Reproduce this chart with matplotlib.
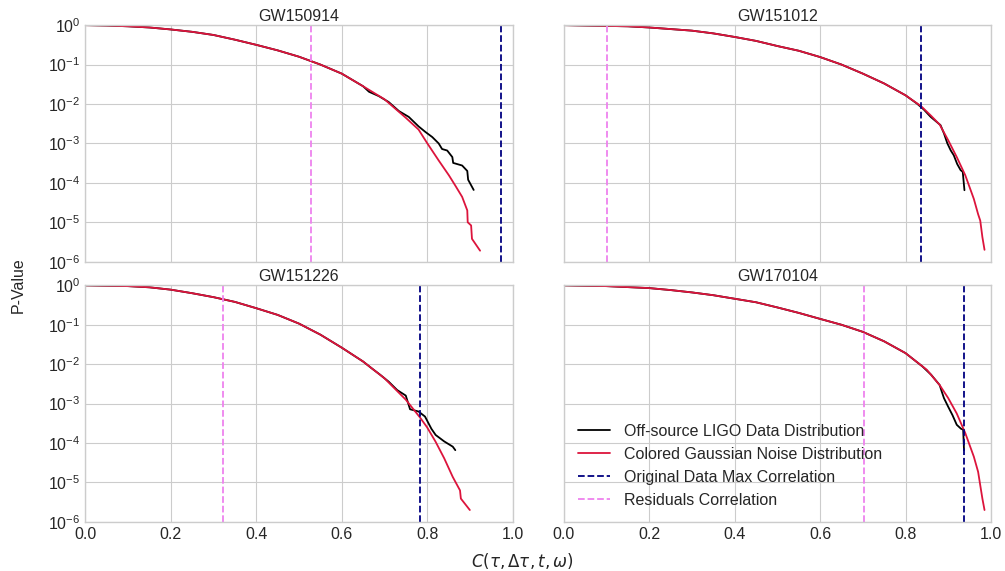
import numpy as np
from matplotlib import pyplot as plt

plt.style.use('seaborn-v0_8-whitegrid')
plt.rcParams['font.family'] = ['Liberation Sans', 'DejaVu Sans']
plt.rcParams['mathtext.fontset'] = 'dejavusans'

events = ['GW150914', 'GW151012', 'GW151226', 'GW170104']

# colored gaussian noise distribution (red)
noise_x = {
    'GW150914': [0, 0.05, 0.1, 0.15, 0.2, 0.25, 0.3, 0.35, 0.4, 0.45, 0.5, 0.55, 0.6, 0.65, 0.7, 0.75, 0.78, 0.8,
                 0.827, 0.851, 0.866, 0.882, 0.89, 0.894, 0.895, 0.903, 0.905, 0.924],
    'GW151012': [0, 0.1, 0.15, 0.2, 0.25, 0.3, 0.35, 0.4, 0.45, 0.5, 0.55, 0.6, 0.65, 0.7, 0.75, 0.8, 0.837,
                 0.86, 0.88, 0.9, 0.92, 0.94, 0.96, 0.97, 0.975, 0.98, 0.985],
    'GW151226': [0, 0.1, 0.15, 0.2, 0.25, 0.3, 0.35, 0.4, 0.45, 0.5, 0.55, 0.6, 0.65, 0.7, 0.75, 0.783, 0.8,
                 0.82, 0.84, 0.86, 0.877, 0.879, 0.9],
    'GW170104': [0, 0.1, 0.2, 0.25, 0.3, 0.35, 0.4, 0.45, 0.5, 0.55, 0.6, 0.65, 0.7, 0.75, 0.8, 0.85, 0.88,
                 0.9, 0.92, 0.94, 0.96, 0.97, 0.975, 0.98, 0.985],
}
noise_p = {
    'GW150914': [1, 0.977, 0.933, 0.871, 0.776, 0.676, 0.562, 0.427, 0.316, 0.229, 0.158, 0.100, 0.0589, 0.0282,
                 0.0132, 4.47e-3, 2.24e-3, 1.02e-3, 3.7e-4, 1.55e-4, 8.5e-5, 4.4e-5, 2.6e-5, 2.0e-5, 1.0e-5,
                 8.3e-6, 3.8e-6, 1.9e-6],
    'GW151012': [1, 0.955, 0.933, 0.871, 0.794, 0.724, 0.617, 0.501, 0.398, 0.295, 0.224, 0.155, 0.100, 0.0589,
                 0.0331, 0.0166, 8.7e-3, 5.0e-3, 3.0e-3, 1.2e-3, 4.5e-4, 1.55e-4, 3.9e-5, 1.6e-5, 1.1e-5,
                 4.2e-6, 2.0e-6],
    'GW151226': [1, 0.955, 0.891, 0.776, 0.631, 0.501, 0.380, 0.263, 0.178, 0.107, 0.0562, 0.0263, 0.0117,
                 4.4e-3, 1.26e-3, 4.5e-4, 2.5e-4, 1.07e-4, 4.1e-5, 1.38e-5, 6.3e-6, 3.9e-6, 2.0e-6],
    'GW170104': [1, 0.955, 0.851, 0.759, 0.661, 0.562, 0.457, 0.372, 0.275, 0.200, 0.141, 0.100, 0.0661, 0.038,
                 0.0191, 7.2e-3, 2.95e-3, 1.38e-3, 5.6e-4, 1.78e-4, 4.5e-5, 1.86e-5, 8.5e-6, 3.9e-6, 2.0e-6],
}

# off-source LIGO data distribution (black)
data_x = {
    'GW150914': [0, 0.05, 0.1, 0.15, 0.2, 0.25, 0.3, 0.35, 0.4, 0.45, 0.5, 0.55, 0.6, 0.65, 0.664, 0.687, 0.71,
                 0.734, 0.757, 0.78, 0.796, 0.812, 0.827, 0.835, 0.847, 0.859, 0.861, 0.882, 0.894, 0.896, 0.909],
    'GW151012': [0, 0.1, 0.15, 0.2, 0.25, 0.3, 0.35, 0.4, 0.45, 0.5, 0.55, 0.6, 0.65, 0.7, 0.75, 0.8, 0.827,
                 0.843, 0.859, 0.882, 0.89, 0.898, 0.906, 0.913, 0.921, 0.929, 0.934, 0.938],
    'GW151226': [0, 0.1, 0.15, 0.2, 0.25, 0.3, 0.35, 0.4, 0.45, 0.5, 0.55, 0.6, 0.65, 0.67, 0.69, 0.71, 0.73,
                 0.75, 0.76, 0.78, 0.795, 0.81, 0.82, 0.84, 0.86, 0.866],
    'GW170104': [0, 0.1, 0.2, 0.25, 0.3, 0.35, 0.4, 0.45, 0.5, 0.55, 0.6, 0.65, 0.7, 0.75, 0.8, 0.82, 0.84,
                 0.86, 0.88, 0.885, 0.89, 0.9, 0.91, 0.92, 0.93, 0.935, 0.937],
}
data_p = {
    'GW150914': [1, 0.977, 0.933, 0.871, 0.776, 0.676, 0.562, 0.427, 0.316, 0.229, 0.158, 0.100, 0.0589, 0.0282,
                 0.0204, 0.0158, 0.0112, 6.6e-3, 4.7e-3, 2.7e-3, 1.95e-3, 1.45e-3, 1.0e-3, 7.2e-4, 6.6e-4,
                 4.5e-4, 3.2e-4, 2.75e-4, 2.0e-4, 1.2e-4, 6.6e-5],
    'GW151012': [1, 0.955, 0.933, 0.871, 0.794, 0.724, 0.617, 0.501, 0.398, 0.295, 0.224, 0.155, 0.100, 0.0589,
                 0.0331, 0.0166, 0.0102, 7.2e-3, 4.7e-3, 2.9e-3, 1.8e-3, 1.0e-3, 6.6e-4, 5.0e-4, 3.0e-4,
                 2.1e-4, 1.9e-4, 6.5e-5],
    'GW151226': [1, 0.955, 0.891, 0.776, 0.631, 0.501, 0.380, 0.263, 0.178, 0.107, 0.0562, 0.0263, 0.0117,
                 7.9e-3, 5.4e-3, 3.6e-3, 2.2e-3, 1.6e-3, 7.2e-4, 6.3e-4, 4.7e-4, 2.3e-4, 1.6e-4, 1.1e-4,
                 8.1e-5, 6.6e-5],
    'GW170104': [1, 0.955, 0.851, 0.759, 0.661, 0.562, 0.457, 0.372, 0.275, 0.200, 0.141, 0.100, 0.0661, 0.038,
                 0.0191, 0.0129, 8.7e-3, 5.4e-3, 2.95e-3, 2.0e-3, 1.38e-3, 8.3e-4, 5.1e-4, 2.9e-4, 2.3e-4,
                 2.2e-4, 6.6e-5],
}

max_corr = [0.972, 0.837, 0.783, 0.938]
resid_corr = [0.528, 0.100, 0.322, 0.702]

fig, axs = plt.subplots(2, 2, sharex=True, sharey=True, figsize=(10.05, 5.71), dpi=100)
fig.subplots_adjust(left=0.085, right=0.986, top=0.956, bottom=0.086, wspace=0.12, hspace=0.10)

for i, ev in enumerate(events):
    ax = axs.flat[i]
    ax.plot(data_x[ev], data_p[ev], color='black', lw=1.3, label='Off-source LIGO Data Distribution')
    ax.plot(noise_x[ev], noise_p[ev], color='crimson', lw=1.3, label='Colored Gaussian Noise Distribution')
    ax.axvline(max_corr[i], color='navy', ls='--', lw=1.3, label='Original Data Max Correlation')
    ax.axvline(resid_corr[i], color='violet', ls='--', lw=1.3, label='Residuals Correlation')
    ax.set_yscale('log')
    ax.set_xlim(0, 1)
    ax.set_ylim(1e-6, 1)
    ax.set_yticks([1e-6, 1e-5, 1e-4, 1e-3, 1e-2, 1e-1, 1])
    ax.minorticks_off()
    ax.set_title(ev, fontsize=11.5, pad=3)
    ax.tick_params(labelsize=11.5)
    for s in ax.spines.values():
        s.set_color('0.8')

axs[1, 1].legend(loc='lower left', bbox_to_anchor=(0.0, 0.0), fontsize=11.5, frameon=False,
                 handlelength=2.0, handletextpad=0.9)

fig.text(0.018, 0.5, 'P-Value', rotation=90, va='center', ha='center', fontsize=11.5)
fig.text(0.52, 0.018, r'$C(\tau, \Delta\tau, t, \omega)$', ha='center', va='center', fontsize=12)

plt.savefig('out.png', dpi=100)
